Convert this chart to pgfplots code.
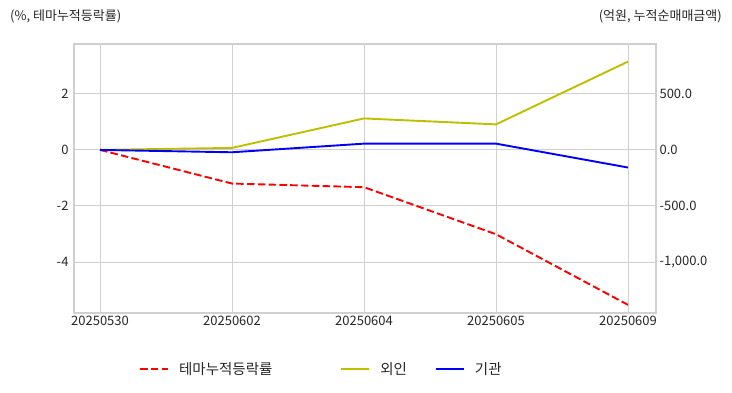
\documentclass[border=0pt]{standalone}
\usepackage{pgfplots}
\pgfplotsset{compat=1.18}
\usepackage{fontspec}
\setmainfont{Noto Sans CJK KR}
\definecolor{gridgray}{RGB}{208,208,208}
\definecolor{lineyellow}{RGB}{191,191,0}
\definecolor{txt}{RGB}{38,38,38}
\pgfplotsset{
  legend image code/.code={\draw[#1] (0pt,0pt) -- (28pt,0pt);},
  myax/.style={scale only axis, width=582pt, height=269pt, at={(74pt,79pt)}, anchor=south west,
    xmin=-0.197, xmax=4.212, xtick={0,1,2,3,4},
    major tick length=0pt,
    ticklabel style={font=\fontsize{13}{15}\selectfont, text=txt},
    axis line style={gridgray, line width=1.4pt},
    /pgf/number format/assume math mode=true},
}
\begin{document}
\begin{tikzpicture}[x=1pt,y=1pt]
\path[use as bounding box] (0,0) rectangle (732,392);
\begin{axis}[myax, ymin=-5.82, ymax=3.78, ytick={-4,-2,0,2}, yticklabels={-4,-2,0,2},
  xticklabels={20250530,20250602,20250604,20250605,20250609},
  grid=major, major grid style={gridgray, line width=1pt},
  yticklabel style={xshift=-2pt}]
\addplot[red, line width=1.9pt, dash pattern=on 7.5pt off 3.3pt] coordinates {(0,0) (1,-1.20) (2,-1.33) (3,-3.01) (4,-5.53)};
\end{axis}
\begin{axis}[myax, ymin=-1455, ymax=945, axis x line=none, axis y line*=right,
  ytick={-1000,-500,0,500}, yticklabels={{-1,000.0},-500.0,0.0,500.0},
  yticklabel style={xshift=0pt},
  legend style={at={(0.1117,-0.208)}, anchor=west, draw=none, fill=none, inner sep=0pt,
    font=\fontsize{14.5}{16}\selectfont, text=txt, legend columns=3,
    /tikz/every odd column/.append style={column sep=8pt},
    /tikz/every even column/.append style={column sep=26pt}},
  legend cell align=left]
\addlegendimage{red, line width=1.9pt, dash pattern=on 7.5pt off 3.3pt}
\addlegendentry{테마누적등락률\kern40pt}
\addplot[lineyellow, line width=1.9pt] coordinates {(0,0) (1,18) (2,281) (3,228) (4,788)};
\addlegendentry{외인}
\addplot[blue, line width=1.9pt] coordinates {(0,0) (1,-21) (2,56) (3,56) (4,-157)};
\addlegendentry{기관}
\end{axis}
\node[anchor=west, text=txt, font=\fontsize{13}{15}\selectfont, inner sep=0pt] at (10,376) {(\%, 테마누적등락률)};
\node[anchor=east, text=txt, font=\fontsize{13}{15}\selectfont, inner sep=0pt] at (722,376) {(억원, 누적순매매금액)};
\end{tikzpicture}
\end{document}
